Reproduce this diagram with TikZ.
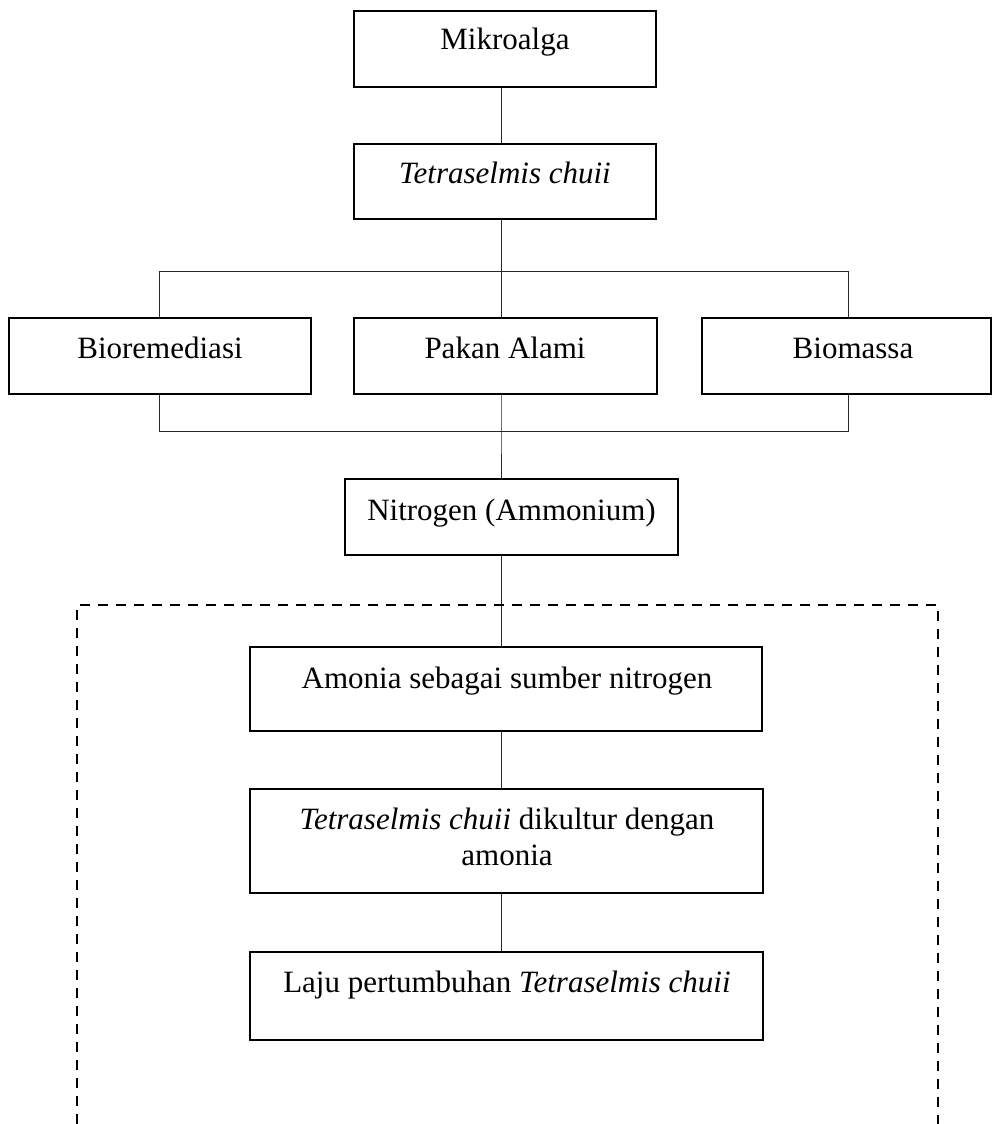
\documentclass[tikz,border=0pt]{standalone}
\usepackage{fontspec}
\setmainfont{Liberation Serif}
\begin{document}
\begin{tikzpicture}[x=1pt,y=-1pt]
\tikzset{
  box/.style={draw=black, line width=1.8pt, inner sep=0pt},
  lbl/.style={anchor=base, inner sep=0pt, font=\fontsize{31}{36}\selectfont},
  conn/.style={line width=1pt, draw=black!85},
  frame/.style={line width=2.6pt, dash pattern=on 10pt off 8pt}
}
\path[use as bounding box] (0,0) rectangle (993,1124);

% boxes
\node[box, minimum width=302pt, minimum height=76pt] (mik) at (505,49) {};
\node[lbl] (mikt) at (505,50) {Mikroalga};
\node[box, minimum width=302pt, minimum height=75pt] (tet) at (505,181.5) {};
\node[lbl] (tett) at (505,183) {\textit{Tetraselmis chuii}};

\node[box, minimum width=302pt, minimum height=76pt] (bio) at (160,356) {};
\node[lbl] (biot) at (160,358) {Bioremediasi};
\node[box, minimum width=303pt, minimum height=76pt] (pak) at (505.5,356) {};
\node[lbl] (pakt) at (505,358) {Pakan Alami};
\node[box, minimum width=289pt, minimum height=76pt] (bms) at (846.5,356) {};
\node[lbl] (bmst) at (853,358) {Biomassa};

\node[box, minimum width=333pt, minimum height=76pt] (nit) at (511.5,517) {};
\node[lbl] (nitt) at (511.5,520) {Nitrogen (Ammonium)};

\node[box, minimum width=512pt, minimum height=84pt] (amo) at (506,689) {};
\node[lbl] (amot) at (507,688) {Amonia sebagai sumber nitrogen};

\node[box, minimum width=513pt, minimum height=104pt] (kul) at (506.5,841) {};
\node[lbl] (kult1) at (507,829) {\textit{Tetraselmis chuii} dikultur dengan};
\node[lbl] (kult2) at (507,865) {amonia};

\node[box, minimum width=513pt, minimum height=88pt] (laj) at (506.5,996) {};
\node[lbl] (lajt) at (507,992) {Laju pertumbuhan \textit{Tetraselmis chuii}};

% junction coordinates
\coordinate (sp) at (501,0);
\coordinate (jt) at (501,271);
\coordinate (jb) at (501,431);
\coordinate (tl) at (159,271);
\coordinate (tr) at (848,271);
\coordinate (bl) at (159,431);
\coordinate (br) at (848,431);

% connectors
\draw[conn] (mik.south -| sp) -- (tet.north -| sp);
\draw[conn] (tet.south -| sp) -- (jt);
\draw[conn] (bio.north -| tl) -- (tl) -- (tr) -- (bms.north -| tr);
\draw[conn] (jt) -- (pak.north -| sp);
\draw[conn] (bio.south -| bl) -- (bl) -- (br) -- (bms.south -| br);
\draw[conn] (pak.south -| sp) -- (jb) -- (nit.north -| sp);
\draw[conn] (nit.south -| sp) -- (amo.north -| sp);
\draw[conn] (amo.south -| sp) -- (kul.north -| sp);
\draw[conn] (kul.south -| sp) -- (laj.north -| sp);

% dashed frame
\coordinate (fbl) at (77,1124);
\coordinate (ftl) at (77,605);
\coordinate (ftr) at (938,605);
\coordinate (fbr) at (938,1124);
\draw[frame] (fbl) -- (ftl) -- (ftr) -- (fbr);
\end{tikzpicture}
\end{document}
